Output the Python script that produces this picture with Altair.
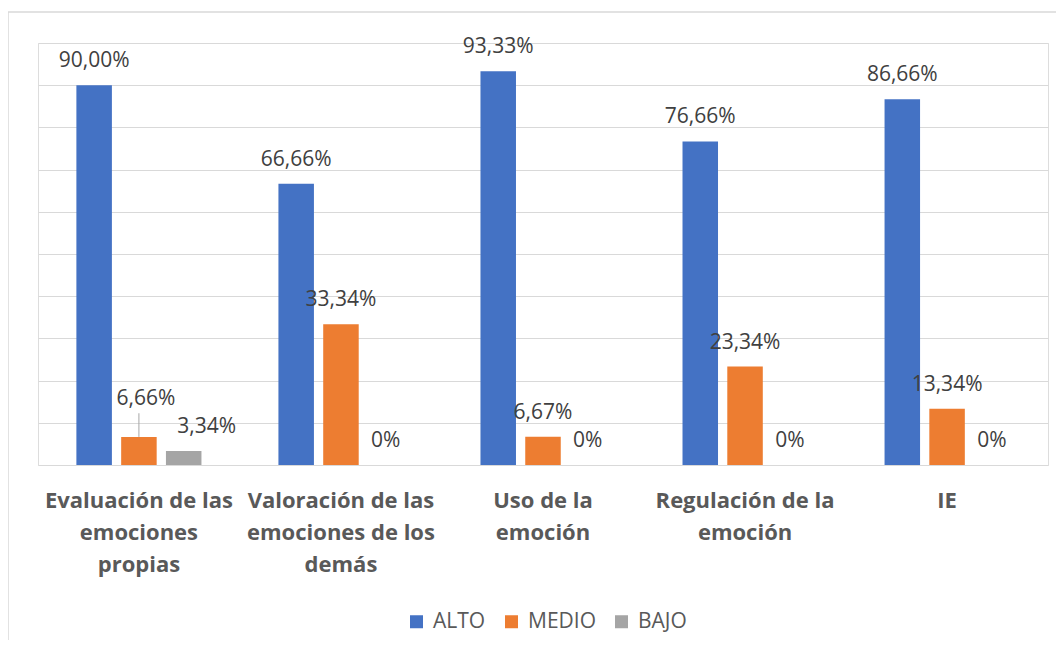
import altair as alt
import pandas as pd

categories = [
    "Evaluación de las|emociones|propias",
    "Valoración de las|emociones de los|demás",
    "Uso de la|emoción",
    "Regulación de la|emoción",
    "IE",
]
series = ["ALTO", "MEDIO", "BAJO"]
alto = [90.00, 66.66, 93.33, 76.66, 86.66]
medio = [6.66, 33.34, 6.67, 23.34, 13.34]
bajo = [3.34, 0.0, 0.0, 0.0, 0.0]
alto_labels = ["90,00%", "66,66%", "93,33%", "76,66%", "86,66%"]
medio_labels = ["6,66%", "33,34%", "6,67%", "23,34%", "13,34%"]
bajo_labels = ["3,34%", "0%", "0%", "0%", "0%"]
colors = ["#4472C4", "#ED7D31", "#A5A5A5"]
grid_values = list(range(0, 101, 10))

rows = []
for i, c in enumerate(categories):
    for s, vals, labs in zip(series, [alto, medio, bajo], [alto_labels, medio_labels, bajo_labels]):
        rows.append({"cat": c, "serie": s, "value": vals[i], "label": labs[i]})
df = pd.DataFrame(rows)

FONT = "Open Sans"

x_enc = alt.X(
    "cat:N",
    sort=categories,
    scale=alt.Scale(paddingInner=0.381, paddingOuter=0.19),
    axis=alt.Axis(
        title=None,
        labelAngle=0,
        labelExpr="split(datum.label, '|')",
        labelFont=FONT,
        labelFontSize=22,
        labelFontWeight="bold",
        labelColor="#595959",
        labelLineHeight=32,
        labelPadding=25,
        labelLimit=400,
        ticks=False,
        domain=False,
        grid=False,
    ),
)
xo_enc = alt.XOffset("serie:N", sort=series, scale=alt.Scale(paddingInner=0.207, paddingOuter=0))
y_enc = alt.Y(
    "value:Q",
    scale=alt.Scale(domain=[0, 100], nice=False),
    axis=alt.Axis(
        title=None,
        labels=False,
        ticks=False,
        domain=False,
        values=grid_values,
        gridColor="#d9d9d9",
        gridWidth=1,
    ),
)

base = alt.Chart(df)

bars = base.mark_bar().encode(
    x=x_enc,
    xOffset=xo_enc,
    y=y_enc,
    color=alt.Color(
        "serie:N",
        sort=series,
        scale=alt.Scale(domain=series, range=colors),
        legend=alt.Legend(
            title=None,
            orient="none",
            legendX=368,
            legendY=568,
            direction="horizontal",
            symbolType="square",
            symbolSize=169,
            symbolStrokeWidth=0,
            labelFont=FONT,
            labelFontSize=21,
            labelColor="#595959",
            columnPadding=15,
            labelOffset=6,
        ),
    ),
)

first = categories[0]
normal_filter = f"!(datum.cat == '{first}' && (datum.serie == 'MEDIO' || datum.serie == 'BAJO'))"

text_style = dict(font=FONT, fontSize=21, color="#404040", align="center", baseline="alphabetic")

labels_normal = base.transform_filter(normal_filter).mark_text(dy=-18, **text_style).encode(
    x=alt.X("cat:N", sort=categories), xOffset=alt.XOffset("serie:N", sort=series), y="value:Q", text="label:N"
)
label_medio1 = base.transform_filter(
    f"datum.cat == '{first}' && datum.serie == 'MEDIO'"
).mark_text(dx=7, dy=-32, **text_style).encode(
    x=alt.X("cat:N", sort=categories), xOffset=alt.XOffset("serie:N", sort=series), y="value:Q", text="label:N"
)
label_bajo1 = base.transform_filter(
    f"datum.cat == '{first}' && datum.serie == 'BAJO'"
).mark_text(dx=23, dy=-18, **text_style).encode(
    x=alt.X("cat:N", sort=categories), xOffset=alt.XOffset("serie:N", sort=series), y="value:Q", text="label:N"
)
leader = base.transform_filter(
    f"datum.cat == '{first}' && datum.serie == 'MEDIO'"
).transform_calculate(top="datum.value + 5.6").mark_rule(color="#a6a6a6", strokeWidth=1).encode(
    x=alt.X("cat:N", sort=categories), xOffset=alt.XOffset("serie:N", sort=series), y="value:Q", y2="top:Q"
)

frame_df = pd.DataFrame({"k": [0]})
frame_top = alt.Chart(frame_df).mark_rule(color="#d9d9d9", strokeWidth=1.5).encode(
    x=alt.value(-30), x2=alt.value(1018), y=alt.value(-31)
)
frame_left = alt.Chart(frame_df).mark_rule(color="#d9d9d9", strokeWidth=1.5).encode(
    x=alt.value(-30), y=alt.value(-31), y2=alt.value(597)
)

chart = alt.layer(frame_top, frame_left, bars, leader, labels_normal, label_medio1, label_bajo1).properties(
    width=1010,
    height=422,
    autosize=alt.AutoSizeParams(type="none"),
    padding={"left": 30, "top": 35, "right": 8, "bottom": 175},
).configure_view(stroke=None).configure(background="white")

chart.save("out.html", embed_options={"renderer": "svg", "actions": False})
